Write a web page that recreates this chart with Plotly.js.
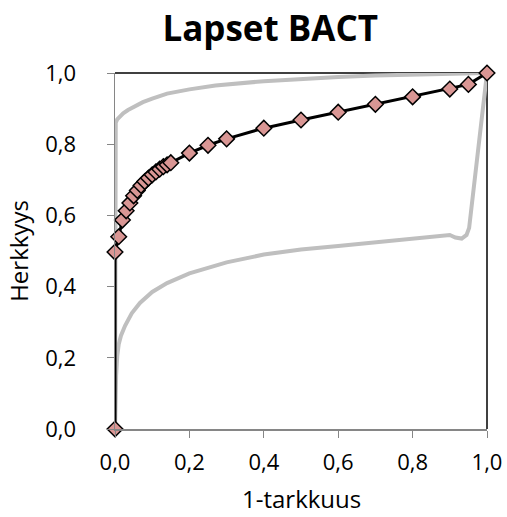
<!DOCTYPE html>
<html>
<head>
<meta charset="utf-8">
<script src="https://cdn.plot.ly/plotly-3.0.1.min.js"></script>
<style>html,body{margin:0;padding:0;background:#fff;}#chart{width:507px;height:517px;}</style>
</head>
<body>
<div id="chart"></div>
<script>
// ROC points (1-specificity, sensitivity)
const rocX = [0, 0, 0.01, 0.02, 0.03, 0.04, 0.05, 0.06, 0.07, 0.08, 0.09, 0.10, 0.11, 0.12, 0.13, 0.14, 0.15, 0.2, 0.25, 0.3, 0.4, 0.5, 0.6, 0.7, 0.8, 0.9, 0.95, 1.0];
const rocY = [0, 0.497, 0.54, 0.587, 0.613, 0.635, 0.655, 0.67, 0.684, 0.695, 0.705, 0.714, 0.722, 0.73, 0.737, 0.742, 0.748, 0.775, 0.797, 0.815, 0.845, 0.868, 0.89, 0.912, 0.933, 0.955, 0.968, 1.0];

// upper confidence band
const upperX = [0, 0, 0, 0.002, 0.006, 0.013, 0.022, 0.035, 0.05, 0.075, 0.1, 0.14, 0.2, 0.27, 0.4, 0.5, 0.6, 0.7, 0.8, 0.9, 1.0];
const upperY = [0, 0.5, 0.845, 0.86, 0.87, 0.879, 0.887, 0.896, 0.905, 0.918, 0.928, 0.942, 0.954, 0.965, 0.977, 0.984, 0.989, 0.993, 0.996, 0.998, 1.0];

// lower confidence band
const lowerX = [0, 0.001, 0.003, 0.006, 0.01, 0.016, 0.027, 0.045, 0.067, 0.1, 0.14, 0.2, 0.23, 0.3, 0.4, 0.5, 0.6, 0.712, 0.8, 0.9, 0.915, 0.932, 0.945, 0.952, 1.0];
const lowerY = [0, 0.07, 0.15, 0.205, 0.238, 0.262, 0.29, 0.325, 0.354, 0.385, 0.41, 0.437, 0.447, 0.468, 0.49, 0.504, 0.514, 0.525, 0.533, 0.545, 0.538, 0.535, 0.545, 0.565, 1.0];

const xTicks = [0, 0.2, 0.4, 0.6, 0.8, 1.0];
const yTicks = [0, 0.2, 0.4, 0.6, 0.8, 1.0];
const xTitle = '1-tarkkuus';
const yTitle = 'Herkkyys';

const grey = '#bfbfbf';
const traces = [
  {x: upperX, y: upperY, mode: 'lines', line: {color: grey, width: 4}, cliponaxis: false, hoverinfo: 'skip'},
  {x: lowerX, y: lowerY, mode: 'lines', line: {color: grey, width: 4}, cliponaxis: false, hoverinfo: 'skip'},
  {x: rocX, y: rocY, mode: 'lines+markers', line: {color: '#000', width: 3},
   marker: {symbol: 'diamond', size: 12, color: '#d99694', line: {color: '#000', width: 1.5}}, cliponaxis: false}
];

const font = 'Open Sans, sans-serif';
const layout = {
  width: 507, height: 517,
  margin: {l: 115, r: 20, t: 73, b: 88},
  separators: ',.',
  showlegend: false,
  paper_bgcolor: '#fff', plot_bgcolor: '#fff',
  title: {text: '<b>Lapset BACT</b>', x: 0.533, xanchor: 'center', y: 0.945, yanchor: 'middle', xref: 'container', yref: 'container',
          font: {family: font, size: 35, color: '#000'}},
  xaxis: {range: [0, 1], tickvals: xTicks, tickformat: '.1f', showgrid: false, zeroline: false,
          showline: true, linecolor: '#868686', linewidth: 1.5, ticks: 'outside', ticklen: 7, tickcolor: '#868686',
          ticklabelstandoff: 6,
          tickfont: {family: font, size: 22, color: '#000'}},
  yaxis: {range: [0, 1], tickvals: yTicks, tickformat: '.1f', showgrid: false, zeroline: false,
          showline: true, linecolor: '#868686', linewidth: 1.5, ticks: 'outside', ticklen: 7, tickcolor: '#868686',
          ticklabelstandoff: 26,
          tickfont: {family: font, size: 22, color: '#000'},
          title: {text: yTitle, font: {family: font, size: 24, color: '#000'}, standoff: 10}},
  annotations: [
    {text: xTitle, xref: 'paper', yref: 'paper', x: 0.5, y: -0.195, xanchor: 'center', yanchor: 'middle', showarrow: false,
     font: {family: font, size: 24, color: '#000'}}
  ],
  shapes: [
    {type: 'line', xref: 'paper', yref: 'paper', x0: 0, x1: 1, y0: 1, y1: 1, line: {color: '#000', width: 1.5}, layer: 'below'},
    {type: 'line', xref: 'paper', yref: 'paper', x0: 1, x1: 1, y0: 0, y1: 1, line: {color: '#000', width: 1.5}, layer: 'below'}
  ]
};

Plotly.newPlot('chart', traces, layout, {displayModeBar: false, staticPlot: true});
</script>
</body>
</html>
